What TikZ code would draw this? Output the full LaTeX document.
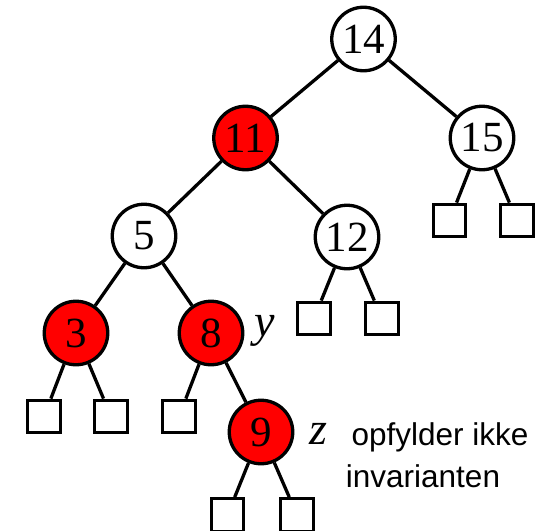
\documentclass[tikz,border=0pt]{standalone}
\usepackage{fontspec}
\setmainfont{Liberation Serif}
\newfontfamily\arialfont{Liberation Sans}
\begin{document}
\begin{tikzpicture}[x=1pt,y=-1pt,
  rbnode/.style={circle,draw=black,line width=3.3pt,minimum size=63.5pt,inner sep=0pt,font=\fontsize{43}{43}\selectfont},
  blacknode/.style={rbnode,fill=white},
  rednode/.style={rbnode,fill=red},
  leafbox/.style={rectangle,draw=black,line width=3.3pt,minimum size=32.5pt,inner sep=0pt,fill=white},
  edge/.style={draw=black,line width=3.3pt},
  lbl/.style={font=\fontsize{46}{46}\selectfont\itshape},
  note/.style={font=\arialfont\fontsize{31.5}{31.5}\selectfont}]
\useasboundingbox (0,0) rectangle (546,530);
\clip (0,0) rectangle (546,530);
% internal nodes
\node[blacknode] (n14) at (363.5,39) {14};
\node[rednode]   (n11) at (245.5,138) {11};
\node[blacknode] (n15) at (482,138) {15};
\node[blacknode] (n5)  at (144,236) {5};
\node[blacknode] (n12) at (347,237) {12};
\node[rednode]   (n3)  at (76,333) {3};
\node[rednode]   (n8)  at (211,333) {8};
\node[rednode]   (n9)  at (261,432) {9};
% leaves
\node[leafbox] (l15a) at (449.5,220.5) {};
\node[leafbox] (l15b) at (517,220.5) {};
\node[leafbox] (l12a) at (314,318.5) {};
\node[leafbox] (l12b) at (382,318.5) {};
\node[leafbox] (l3a)  at (44,416.5) {};
\node[leafbox] (l3b)  at (111,416.5) {};
\node[leafbox] (l8a)  at (179,416.5) {};
\node[leafbox] (l9a)  at (227.5,515) {};
\node[leafbox] (l9b)  at (297,515) {};
% edges
\draw[edge] (n14) -- (n11);
\draw[edge] (n14) -- (n15);
\draw[edge] (n11) -- (n5);
\draw[edge] (n11) -- (n12);
\draw[edge] (n15) -- (l15a);
\draw[edge] (n15) -- (l15b);
\draw[edge] (n5) -- (n3);
\draw[edge] (n5) -- (n8);
\draw[edge] (n12) -- (l12a);
\draw[edge] (n12) -- (l12b);
\draw[edge] (n3) -- (l3a);
\draw[edge] (n3) -- (l3b);
\draw[edge] (n8) -- (l8a);
\draw[edge] (n8) -- (n9);
\draw[edge] (n9) -- (l9a);
\draw[edge] (n9) -- (l9b);
% labels
\node[lbl] (ly) at (265,331) {y};
\node[lbl] (lz) at (318,434) {z};
\node[note,anchor=base] (t1) at (440,445) {opfylder ikke};
\node[note,anchor=base] (t2) at (423,487) {invarianten};
\end{tikzpicture}
\end{document}
